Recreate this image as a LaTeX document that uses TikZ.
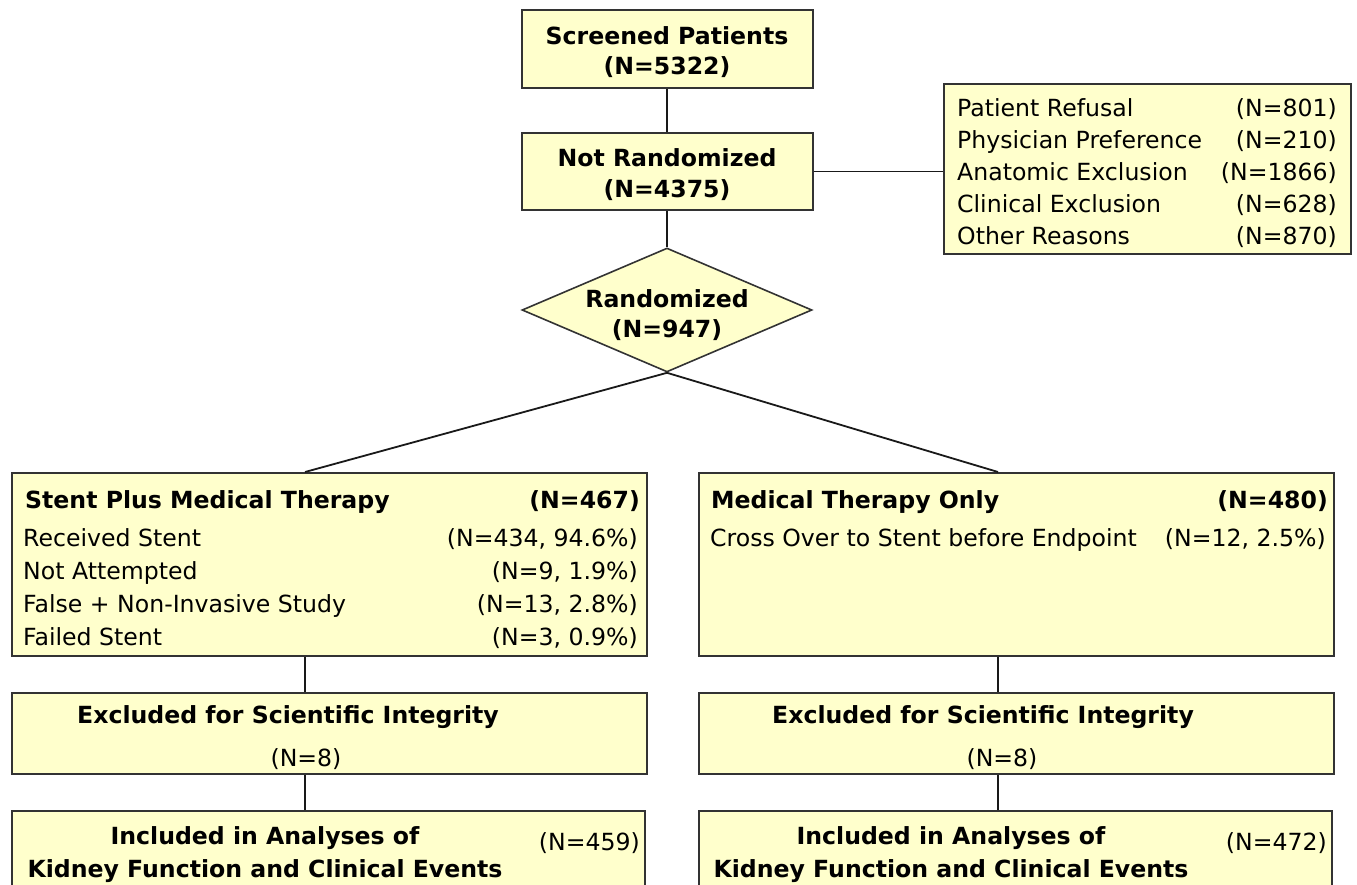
\documentclass[tikz,border=0pt]{standalone}
\usepackage{fontspec}
\setmainfont{DejaVu Sans}
\usetikzlibrary{shapes.geometric}

\definecolor{boxfill}{HTML}{FFFFCC}
\definecolor{boxline}{HTML}{333333}

\begin{document}
\begin{tikzpicture}[x=1pt,y=-1pt,
  every node/.style={font=\fontsize{23.6}{28}\selectfont,inner sep=0pt},
  box/.style={draw=boxline,line width=2pt,fill=boxfill,rectangle},
  decide/.style={draw=boxline,line width=1.6pt,fill=boxfill,diamond},
  head/.style={font=\fontsize{23.6}{28}\selectfont\bfseries},
  rowl/.style={anchor=base west},
  rowr/.style={anchor=base east},
  link/.style={line width=1.8pt,black!90}
]
\useasboundingbox (0,0) rectangle (1357,884);
\clip (0,0) rectangle (1357,884);

% screening column
\node[box,minimum width=291pt,minimum height=78pt] (screened) at (667,49) {};
\node[head,anchor=base] (screened1) at (667,44) {Screened Patients};
\node[head,anchor=base] (screened2) at (667,74) {(N=5322)};
\node[box,minimum width=291pt,minimum height=77pt] (notrand) at (667,171.5) {};
\node[head,anchor=base] (notrand1) at (667,166) {Not Randomized};
\node[head,anchor=base] (notrand2) at (667,197) {(N=4375)};
\node[decide,minimum width=290pt,minimum height=124pt] (rand) at (667,310) {};
\node[head,anchor=base] (rand1) at (667,307) {Randomized};
\node[head,anchor=base] (rand2) at (667,337) {(N=947)};

% reasons for not randomizing
\node[box,minimum width=407pt,minimum height=170pt] (reasons) at (1147.5,169) {};
\foreach \why/\n [count=\i] in {Patient Refusal/801,Physician Preference/210,
    Anatomic Exclusion/1866,Clinical Exclusion/628,Other Reasons/870} {
  \node[rowl] (why\i) at (957,84+32*\i) {\why};
  \node[rowr] (whyn\i) at (1337,84+32*\i) {(N=\n)};
}

% stent arm
\node[box,minimum width=635pt,minimum height=183pt] (stent) at (329.5,564.5) {};
\node[head,rowl] (stent1) at (25,508) {Stent Plus Medical Therapy};
\node[head,rowr] (stentn) at (640,508) {(N=467)};
\foreach \what/\n [count=\i] in {Received Stent/{434, 94.6\%},Not Attempted/{9, 1.9\%},
    False + Non-Invasive Study/{13, 2.8\%},Failed Stent/{3, 0.9\%}} {
  \node[rowl] (stentr\i) at (23,513+33*\i) {\what};
  \node[rowr] (stentrn\i) at (638,513+33*\i) {(N=\n)};
}

% medical arm
\node[box,minimum width=635pt,minimum height=183pt] (medical) at (1016.5,564.5) {};
\node[head,rowl] (medical1) at (711,508) {Medical Therapy Only};
\node[head,rowr] (medicaln) at (1328,508) {(N=480)};
\node[rowl] (cross) at (710,546) {Cross Over to Stent before Endpoint};
\node[rowr] (crossn) at (1326,546) {(N=12, 2.5\%)};

% exclusions
\node[box,minimum width=635pt,minimum height=81pt] (exclA) at (329.5,733.5) {};
\node[head,rowl] (exclA1) at (77,723) {Excluded for Scientific Integrity};
\node[anchor=base] (exclA2) at (306,766) {(N=8)};
\node[box,minimum width=635pt,minimum height=81pt] (exclB) at (1016.5,733.5) {};
\node[head,rowl] (exclB1) at (772,723) {Excluded for Scientific Integrity};
\node[anchor=base] (exclB2) at (1002,766) {(N=8)};

% analysed
\node[box,minimum width=633pt,minimum height=110pt] (inclA) at (328.5,866) {};
\node[head,anchor=base] (inclA1) at (265,844) {Included in Analyses of};
\node[head,anchor=base] (inclA2) at (265,877) {Kidney Function and Clinical Events};
\node[rowr] (inclAn) at (640,850) {(N=459)};
\node[box,minimum width=633pt,minimum height=110pt] (inclB) at (1015.5,866) {};
\node[head,anchor=base] (inclB1) at (951,844) {Included in Analyses of};
\node[head,anchor=base] (inclB2) at (951,877) {Kidney Function and Clinical Events};
\node[rowr] (inclBn) at (1327,850) {(N=472)};

% connectors
\coordinate (armA) at (305,0);
\coordinate (armB) at (998,0);
\draw[link] (screened) -- (notrand);
\draw[link] (notrand) -- (rand);
\draw[link] (notrand.east) -- (notrand.east -| reasons.west);
\draw[link] (rand.south) -- (stent.north -| armA);
\draw[link] (rand.south) -- (medical.north -| armB);
\draw[link] (stent.south -| armA) -- (exclA.north -| armA);
\draw[link] (exclA.south -| armA) -- (inclA.north -| armA);
\draw[link] (medical.south -| armB) -- (exclB.north -| armB);
\draw[link] (exclB.south -| armB) -- (inclB.north -| armB);
\end{tikzpicture}
\end{document}
